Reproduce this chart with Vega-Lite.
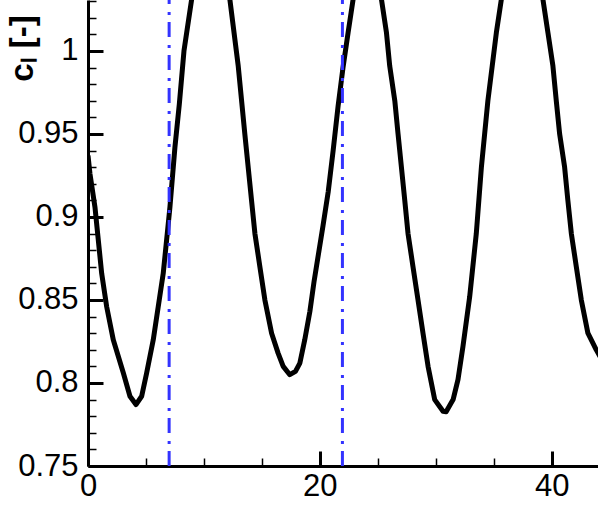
{
  "$schema": "https://vega.github.io/schema/vega-lite/v6.json",
  "width": 510,
  "height": 466,
  "autosize": "none",
  "padding": {"left": 88, "top": 0, "right": 0, "bottom": 61},
  "background": "white",
  "config": {
    "view": {"stroke": null},
    "axis": {"labelFont": "Liberation Sans", "titleFont": "Liberation Sans", "labelColor": "black", "titleColor": "black", "grid": false}
  },
  "datasets": {
    "cl": [
      {"t": 0, "cl": 0.937}, {"t": 0.17, "cl": 0.926}, {"t": 0.6, "cl": 0.906}, {"t": 0.89, "cl": 0.886},
      {"t": 1.18, "cl": 0.866}, {"t": 1.61, "cl": 0.846}, {"t": 2.18, "cl": 0.826}, {"t": 3.05, "cl": 0.806},
      {"t": 3.62, "cl": 0.792}, {"t": 4.14, "cl": 0.787}, {"t": 4.63, "cl": 0.792}, {"t": 5.06, "cl": 0.806},
      {"t": 5.63, "cl": 0.826}, {"t": 6.06, "cl": 0.846}, {"t": 6.49, "cl": 0.866}, {"t": 7.07, "cl": 0.906},
      {"t": 7.5, "cl": 0.942}, {"t": 7.88, "cl": 0.968}, {"t": 8.28, "cl": 1.0}, {"t": 8.94, "cl": 1.031},
      {"t": 9.6, "cl": 1.056}, {"t": 10.6, "cl": 1.07}, {"t": 11.6, "cl": 1.056}, {"t": 12.24, "cl": 1.031},
      {"t": 12.96, "cl": 0.991}, {"t": 13.53, "cl": 0.95}, {"t": 14.11, "cl": 0.91}, {"t": 14.4, "cl": 0.89},
      {"t": 14.83, "cl": 0.87}, {"t": 15.26, "cl": 0.85}, {"t": 15.84, "cl": 0.83}, {"t": 16.4, "cl": 0.818},
      {"t": 16.84, "cl": 0.81}, {"t": 17.41, "cl": 0.805}, {"t": 17.9, "cl": 0.807}, {"t": 18.28, "cl": 0.812},
      {"t": 18.7, "cl": 0.826}, {"t": 19.14, "cl": 0.843}, {"t": 19.5, "cl": 0.861}, {"t": 20.28, "cl": 0.895},
      {"t": 20.72, "cl": 0.915}, {"t": 21.15, "cl": 0.94}, {"t": 21.58, "cl": 0.967}, {"t": 22.0, "cl": 0.99},
      {"t": 22.44, "cl": 1.011}, {"t": 22.87, "cl": 1.031}, {"t": 23.5, "cl": 1.05}, {"t": 24.1, "cl": 1.058},
      {"t": 24.7, "cl": 1.05}, {"t": 25.32, "cl": 1.031}, {"t": 25.75, "cl": 1.011}, {"t": 26.03, "cl": 0.991},
      {"t": 26.47, "cl": 0.97}, {"t": 26.75, "cl": 0.95}, {"t": 27.04, "cl": 0.93}, {"t": 27.33, "cl": 0.91},
      {"t": 27.61, "cl": 0.89}, {"t": 28.04, "cl": 0.87}, {"t": 28.47, "cl": 0.85}, {"t": 28.9, "cl": 0.83},
      {"t": 29.34, "cl": 0.81}, {"t": 29.91, "cl": 0.79}, {"t": 30.63, "cl": 0.783}, {"t": 30.9, "cl": 0.7827},
      {"t": 31.5, "cl": 0.79}, {"t": 31.92, "cl": 0.802}, {"t": 32.35, "cl": 0.822}, {"t": 32.93, "cl": 0.852},
      {"t": 33.5, "cl": 0.89}, {"t": 33.94, "cl": 0.93}, {"t": 34.5, "cl": 0.97}, {"t": 35.23, "cl": 1.011},
      {"t": 35.66, "cl": 1.031}, {"t": 36.4, "cl": 1.06}, {"t": 37.45, "cl": 1.075}, {"t": 38.5, "cl": 1.06},
      {"t": 39.25, "cl": 1.031}, {"t": 39.68, "cl": 1.011}, {"t": 40.11, "cl": 0.991}, {"t": 40.4, "cl": 0.97},
      {"t": 40.69, "cl": 0.95}, {"t": 41.12, "cl": 0.93}, {"t": 41.4, "cl": 0.91}, {"t": 41.7, "cl": 0.89},
      {"t": 42.13, "cl": 0.87}, {"t": 42.56, "cl": 0.85}, {"t": 43.13, "cl": 0.83}, {"t": 43.85, "cl": 0.82},
      {"t": 44.5, "cl": 0.812}
    ],
    "marks": [{"t": 7.0}, {"t": 21.95}]
  },
  "layer": [
    {
      "data": {"name": "cl"},
      "mark": {"type": "line", "color": "black", "strokeWidth": 5, "clip": true, "interpolate": "linear", "strokeJoin": "round"},
      "encoding": {
        "x": {
          "field": "t", "type": "quantitative",
          "scale": {"domain": [0, 44], "nice": false, "zero": false},
          "axis": {
            "orient": "bottom", "title": null, "values": [0, 20, 40], "format": "d",
            "labelFontSize": 31, "tickSize": -15, "tickWidth": 3, "tickColor": "black",
            "domainWidth": 3, "domainColor": "black", "labelPadding": 20, "labelFlush": false, "labelOverlap": false
          }
        },
        "y": {
          "field": "cl", "type": "quantitative",
          "scale": {"domain": [0.75, 1.0307], "nice": false, "zero": false},
          "axis": {
            "orient": "left", "title": "cₗ [-]", "values": [0.75, 0.8, 0.85, 0.9, 0.95, 1.0], "format": "~g",
            "labelFontSize": 31, "tickSize": -15, "tickWidth": 3, "tickColor": "black",
            "domainWidth": 3, "domainColor": "black", "labelPadding": 25, "labelFlush": false, "labelOverlap": false,
            "titleFontSize": 33, "titleFontWeight": "bold", "titleAngle": -90, "titleAlign": "center",
            "titleBaseline": "alphabetic", "titleX": -56, "titleY": 48
          }
        }
      }
    },
    {
      "data": {"name": "marks"},
      "mark": {"type": "rule", "color": "#3333ff", "strokeWidth": 3, "strokeDash": [15, 7, 3, 8]},
      "encoding": {
        "x": {
          "field": "t", "type": "quantitative",
          "axis": {
            "orient": "bottom", "title": null, "values": [5, 10, 15, 25, 30, 35],
            "labels": false, "domain": false, "tickSize": -8, "tickWidth": 1.5, "tickColor": "black"
          }
        },
        "y": {
          "datum": 0.75, "type": "quantitative",
          "axis": {
            "orient": "left", "title": null,
            "values": [0.76, 0.77, 0.78, 0.79, 0.81, 0.82, 0.83, 0.84, 0.86, 0.87, 0.88, 0.89, 0.91, 0.92, 0.93, 0.94, 0.96, 0.97, 0.98, 0.99, 1.01, 1.02, 1.03],
            "labels": false, "domain": false, "tickSize": -8, "tickWidth": 1.5, "tickColor": "black"
          }
        },
        "y2": {"datum": 1.0307}
      }
    }
  ],
  "resolve": {"axis": {"x": "independent", "y": "independent"}}
}
